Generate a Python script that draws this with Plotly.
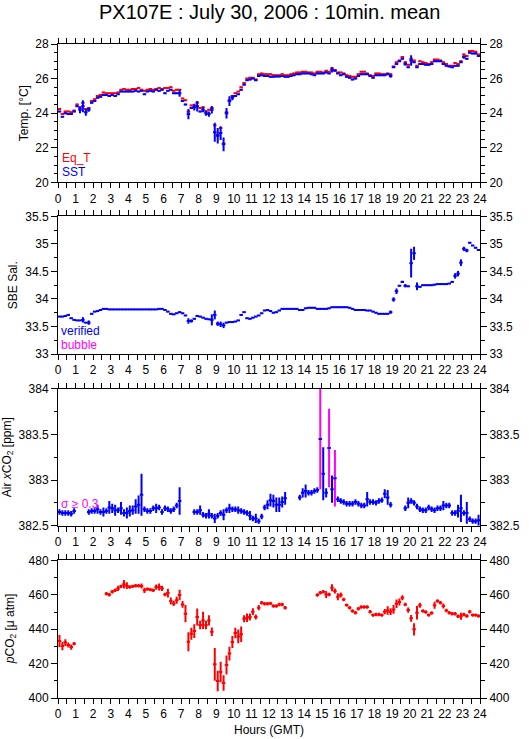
import plotly.graph_objects as go

# ---------------- data (10-minute means, 144 bins) ----------------
HOURS = [(i + 0.5) / 6 for i in range(144)]
X_TICKS = list(range(0, 25))

EQ_T = [24.25, 23.95, 24.1, 24.1, 24.05, 24.15, 24.5, 24.3, 24.6, 24.25,
        24.3, 24.7, 24.8, 25.0, 25.05, 25.2, 25.15, 25.15, 25.15, 25.15,
        25.2, 25.35, 25.4, 25.35, 25.35, 25.4, 25.4, 25.45, 25.35, 25.3,
        25.35, 25.4, 25.35, 25.4, 25.45, 25.4, 25.45, 25.45, 25.5, 25.3,
        25.35, 25.35, 24.85, 24.75, 24.1, 24.45, 24.45, 24.6, 24.3, 24.35,
        24.1, 24.2, 24.3, 23.3, 22.75, 23.15, 22.25, 24.05, 24.75, 25.0,
        25.15, 25.25, 25.5, 25.75, 26.0, 26.05, 26.05, 25.95, 26.25, 26.3,
        26.25, 26.25, 26.25, 26.2, 26.2, 26.2, 26.25, 26.2, 26.2, 26.25,
        26.3, 26.35, 26.35, 26.4, 26.4, 26.35, 26.35, 26.3, 26.4, 26.4,
        26.35, 26.45, 26.4, 26.6, 26.5, 26.35, 26.35, 26.3, 26.2, 26.15,
        26.1, 26.1, 26.25, 26.4, 26.4, 26.3, 26.2, 26.15, 26.3, 26.3,
        26.25, 26.25, 26.3, 26.25, 26.7, 26.95, 27.05, 27.25, 26.95, 26.8,
        27.15, 27.05, 26.75, 27.0, 26.95, 26.9, 26.85, 26.95, 27.1, 27.1,
        27.05, 26.95, 26.85, 26.75, 26.75, 26.9, 26.85, 27.0, 27.4, 27.3,
        27.6, 27.6, 27.55, 27.4]

SST = [24.1, 23.8, 24.0, 23.95, 23.95, 24.1, 24.4, 24.2, 24.4, 24.05,
       24.2, 24.6, 24.7, 24.9, 24.95, 25.05, 25.05, 25.0, 25.05, 25.0,
       25.1, 25.25, 25.25, 25.25, 25.25, 25.25, 25.3, 25.25, 25.3, 25.1,
       25.25, 25.3, 25.25, 25.35, 25.3, 25.35, 25.15, 25.3, 25.35, 25.15,
       25.15, 25.15, 24.7, 24.5, 23.95, 24.3, 24.35, 24.4, 24.1, 24.2,
       24.0, 23.95, 24.2, 22.9, 22.7, 22.85, 22.2, 24.0, 24.7, 24.9,
       25.0, 25.1, 25.35, 25.65, 25.9, 25.95, 26.0, 25.9, 26.15, 26.2,
       26.15, 26.15, 26.1, 26.1, 26.12, 26.12, 26.15, 26.1, 26.1, 26.15,
       26.2, 26.25, 26.25, 26.3, 26.3, 26.3, 26.25, 26.2, 26.3, 26.3,
       26.3, 26.35, 26.3, 26.5, 26.45, 26.3, 26.2, 26.25, 26.1, 26.05,
       25.95, 26.0, 26.15, 26.25, 26.25, 26.25, 26.15, 26.05, 26.2, 26.2,
       26.2, 26.2, 26.25, 26.15, 26.65, 26.85, 27.0, 27.15, 26.85, 26.65,
       27.05, 26.95, 26.65, 26.85, 26.85, 26.8, 26.8, 26.85, 27.0, 27.0,
       27.0, 26.85, 26.75, 26.7, 26.65, 26.75, 26.75, 26.95, 27.25, 27.15,
       27.5, 27.45, 27.45, 27.3]
SST_SD_DEFAULT = 0.04
SST_SD = {7: 0.2, 8: 0.35, 9: 0.2, 10: 0.12, 41: 0.2, 44: 0.3, 46: 0.2, 47: 0.3,
          49: 0.15, 50: 0.15, 51: 0.15, 52: 0.22, 53: 0.55, 54: 0.45, 55: 0.4,
          56: 0.4, 57: 0.3, 58: 0.28, 59: 0.15, 93: 0.15, 113: 0.1, 118: 0.1,
          120: 0.3, 138: 0.1}

SAL = [33.68, 33.68, 33.69, 33.71, 33.65, 33.62, 33.61, 33.61, 33.62, 33.57,
       33.57, 33.73, 33.77, 33.78, 33.80, 33.82, 33.82, 33.81, 33.81, 33.81,
       33.81, 33.81, 33.81, 33.81, 33.81, 33.81, 33.81, 33.81, 33.81, 33.81,
       33.81, 33.81, 33.81, 33.81, 33.82, 33.82, 33.80, 33.77, 33.73, 33.72,
       33.74, 33.76, 33.74, 33.70, 33.60, 33.60, 33.64, 33.69, 33.68, 33.66,
       33.64, 33.63, 33.62, 33.71, 33.55, 33.54, 33.52, 33.57, 33.58, 33.58,
       33.59, 33.61, 33.71, 33.76, 33.65, 33.64, 33.66, 33.68, 33.70, 33.74,
       33.79, 33.80, 33.78, 33.75, 33.76, 33.79, 33.82, 33.82, 33.82, 33.82,
       33.82, 33.82, 33.80, 33.80, 33.83, 33.84, 33.84, 33.84, 33.82, 33.82,
       33.82, 33.82, 33.83, 33.85, 33.85, 33.85, 33.85, 33.85, 33.85, 33.84,
       33.82, 33.80, 33.80, 33.80, 33.80, 33.79, 33.79, 33.77, 33.75, 33.73,
       33.73, 33.73, 33.73, 33.76, 33.99, 34.14, 34.24, 34.31, 34.24, 34.23,
       34.65, 34.83, 34.23, 34.22, 34.25, 34.25, 34.25, 34.25, 34.26, 34.27,
       34.27, 34.27, 34.27, 34.28, 34.31, 34.42, 34.46, 34.66, 34.91, 34.88,
       35.02, 34.97, 34.93, 34.89]
SAL_SD_DEFAULT = 0.01
SAL_SD = {8: 0.05, 10: 0.04, 44: 0.05, 45: 0.03, 52: 0.1, 53: 0.08, 54: 0.04,
          55: 0.05, 56: 0.05, 113: 0.03, 114: 0.04, 115: 0.05, 117: 0.02,
          118: 0.03, 120: 0.26, 121: 0.12, 122: 0.07, 135: 0.05, 136: 0.05,
          137: 0.06, 138: 0.04, 139: 0.03}

XCO2 = [382.65, 382.64, 382.64, 382.64, 382.63, 382.66, None, None, None, None,
        382.65, 382.66, 382.66, 382.68, 382.65, 382.65, 382.66, 382.70, 382.69, 382.67,
        382.67, 382.69, 382.64, 382.64, 382.66, 382.67, 382.71, 382.73, 382.84, 382.68,
        382.66, 382.66, 382.69, 382.69, 382.70, 382.65, 382.69, 382.68, 382.66, 382.68,
        382.72, 382.77, None, None, None, None, 382.65, 382.65, 382.67, 382.62,
        382.61, 382.63, 382.61, 382.58, 382.61, 382.64, 382.62, 382.67, 382.69, 382.68,
        382.68, 382.67, 382.66, 382.65, 382.64, 382.61, 382.58, 382.58, 382.55, 382.60,
        382.70, 382.73, 382.78, 382.77, 382.73, 382.73, 382.76, 382.80, None, None,
        None, None, 382.81, 382.86, 382.88, 382.86, 382.86, 382.88, 382.89, 383.45,
        383.07, 382.86, 383.35, 382.90, 383.02, 382.79, 382.77, 382.76, 382.74, 382.74,
        382.74, 382.76, 382.74, 382.72, 382.72, 382.79, 382.76, 382.76, 382.75, 382.77,
        382.78, 382.85, 382.81, 382.73, None, None, None, None, 382.69, 382.75,
        382.77, 382.75, 382.71, 382.68, 382.67, 382.67, 382.70, 382.68, 382.67, 382.69,
        382.69, 382.72, 382.72, 382.72, 382.64, 382.64, 382.66, 382.69, 382.64, 382.64,
        382.57, 382.55, 382.55, 382.56]
XCO2_SD_DEFAULT = 0.03
XCO2_SD = {13: 0.05, 15: 0.05, 17: 0.07, 18: 0.05, 19: 0.06, 21: 0.07, 22: 0.04,
           23: 0.06, 24: 0.06, 25: 0.05, 26: 0.08, 27: 0.1, 28: 0.23, 33: 0.05,
           41: 0.15, 48: 0.05, 51: 0.05, 53: 0.05, 56: 0.06, 58: 0.05, 61: 0.04,
           65: 0.05, 67: 0.05, 71: 0.05, 72: 0.07, 73: 0.07, 74: 0.08, 75: 0.08,
           76: 0.06, 77: 0.07, 83: 0.05, 84: 0.07, 89: 0.55, 90: 0.29, 91: 0.05,
           92: 0.43, 93: 0.15, 94: 0.31, 105: 0.08, 111: 0.05, 112: 0.08,
           119: 0.06, 131: 0.05, 136: 0.07, 137: 0.15, 139: 0.12, 143: 0.06}
SIGMA_LIMIT = 0.3

PCO2 = [433.1, 430.2, 432.2, 430.8, 429.6, 431.6, None, None, None, None,
        None, None, None, None, None, None, 460.6, 460.0, 461.8, 462.6,
        463.7, 464.9, 466.1, 465.3, 464.5, 464.9, 465.3, 465.3, 465.1, 462.6,
        463.3, 463.0, 462.6, 464.5, 464.5, 463.7, 460.2, 461.0, 456.4, 455.0,
        456.8, 459.9, 454.4, 449.0, 432.7, 437.4, 438.9, 447.1, 442.4, 445.1,
        442.4, 445.1, 438.5, 419.6, 409.9, 415.1, 408.7, 419.2, 425.8, 432.5,
        437.8, 435.8, 437.0, 446.1, 446.7, 447.1, 450.2, 447.1, 452.5, 455.4,
        454.8, 454.8, 455.0, 453.5, 453.5, 454.4, 454.4, 452.5, None, None,
        None, None, None, None, None, None, None, None, 459.9, 461.2,
        461.8, 460.2, 460.2, 464.1, 462.2, 458.9, 459.9, 457.3, 454.0, 452.5,
        450.6, 449.6, 451.9, 452.9, 452.9, 452.9, 450.2, 448.2, 448.6, 448.6,
        448.2, 450.2, 450.9, 450.2, 451.5, 454.8, 455.8, 458.3, 454.4, 451.1,
        446.3, 439.9, 449.6, 453.9, 450.6, 450.0, 448.2, 449.4, 453.9, 456.4,
        455.4, 453.5, 450.9, 449.6, 449.0, 449.0, 447.5, 447.5, 448.6, 447.7,
        450.2, 448.2, 448.2, 447.7]
PCO2_SD_DEFAULT = 1.0
PCO2_SD = {0: 3.5, 1: 2.5, 2: 2, 3: 1.5, 4: 1.5, 20: 1.5, 22: 2.5, 23: 2, 28: 1.5,
           29: 1.5, 33: 1.5, 34: 2, 35: 1.5, 37: 2.5, 38: 2, 39: 1.5, 40: 2,
           41: 3, 42: 2, 43: 5, 44: 5.5, 45: 3.5, 46: 4, 47: 5, 48: 2.5, 49: 5,
           50: 2.5, 51: 3, 52: 2.5, 53: 9.5, 54: 6, 55: 6, 56: 4.5, 57: 5.5,
           58: 4, 59: 3.5, 60: 3, 61: 4, 62: 4.5, 63: 2, 64: 2.5, 65: 2, 66: 2,
           67: 1.5, 68: 1.5, 91: 2, 93: 2, 94: 1.5, 95: 2, 96: 1.5, 111: 1.5,
           112: 2.5, 113: 2, 114: 2.5, 115: 2.5, 116: 2, 117: 1.5, 119: 1.5,
           120: 2, 121: 3.5, 122: 4, 123: 1.5, 128: 2, 131: 1.5, 137: 2}
EQT_SD = 0.04

RED, BLUE, MAGENTA = "#ff0000", "#0000ff", "#ff00ff"
FONT = "Liberation Sans, Arial, sans-serif"
W, H = 529, 739
L, R, T, B = 58, 480, 44.3, 698.3


def sd_list(default, exceptions):
    return [exceptions.get(i, default) for i in range(len(HOURS))]


def px_x(x):
    return (x - L) / (R - L)


def px_y(y):
    return (B - y) / (B - T)


def cross(y, sd, color, xaxis, yaxis, show_x=True):
    return go.Scatter(
        x=HOURS, y=y, mode="markers", xaxis=xaxis, yaxis=yaxis,
        marker=dict(size=1, color=color), showlegend=False, hoverinfo="skip",
        error_y=dict(type="data", array=sd, color=color, thickness=2, width=0),
        error_x=dict(type="constant", value=0.1 if show_x else 0, color=color,
                     thickness=2, width=0),
    )


fig = go.Figure()

# panel 1
fig.add_trace(cross(EQ_T, [EQT_SD] * len(HOURS), RED, "x", "y"))
fig.add_trace(cross(SST, sd_list(SST_SD_DEFAULT, SST_SD), BLUE, "x", "y"))
# panel 2
fig.add_trace(cross(SAL, sd_list(SAL_SD_DEFAULT, SAL_SD), BLUE, "x2", "y2"))
# panel 3
xsd = sd_list(XCO2_SD_DEFAULT, XCO2_SD)
big = [v if (v is not None and s >= SIGMA_LIMIT) else None for v, s in zip(XCO2, xsd)]
small_sd = [0 if s >= SIGMA_LIMIT else s for s in xsd]
fig.add_trace(cross(big, xsd, MAGENTA, "x3", "y3", show_x=False))
fig.add_trace(cross(XCO2, small_sd, BLUE, "x3", "y3"))
# panel 4
fig.add_trace(cross(PCO2, sd_list(PCO2_SD_DEFAULT, PCO2_SD), RED, "x4", "y4"))

# dummy traces for the right-hand axes
for k in range(5, 9):
    xa = "x" if k == 5 else f"x{k - 4}"
    fig.add_trace(go.Scatter(x=[None], y=[None], xaxis=xa, yaxis=f"y{k}",
                             mode="markers", showlegend=False, hoverinfo="skip"))

panels = [  # (top px, bottom px, range, dtick, minor)
    (44.3, 182.7, [20, 28], 2, 0.5),
    (216.7, 354.3, [33, 35.5], 0.5, 0.25),
    (389.0, 526.0, [382.5, 384], 0.5, 0.25),
    (560.7, 698.3, [400, 480], 20, 10),
]

layout = dict(
    width=W, height=H,
    margin=dict(l=L, r=W - R, t=T, b=H - B, pad=0),
    paper_bgcolor="white", plot_bgcolor="white",
    font=dict(family=FONT, size=12, color="black"),
    showlegend=False,
)
for n, (top, bot, rng, dt, mdt) in enumerate(panels, start=1):
    sfx = "" if n == 1 else str(n)
    dom = [px_y(bot), px_y(top)]
    layout[f"xaxis{sfx}"] = dict(
        domain=[0, 1], anchor=f"y{sfx}", range=[0, 24], automargin=False,
        tickmode="array", tickvals=X_TICKS, ticktext=[str(v) for v in X_TICKS],
        ticks="outside", ticklen=5, tickwidth=1, tickcolor="black",
        minor=dict(dtick=0.5, ticklen=5, ticks="outside", tickcolor="black"),
        showline=True, linecolor="black", linewidth=1, mirror="allticks",
        showgrid=False, zeroline=False, tickfont=dict(size=12),
    )
    layout[f"yaxis{sfx}"] = dict(
        domain=dom, anchor=f"x{sfx}", range=rng, dtick=dt, tick0=rng[0],
        automargin=False,
        ticks="outside", ticklen=6, tickwidth=1, tickcolor="black",
        minor=dict(dtick=mdt, ticklen=3.5, ticks="outside", tickcolor="black"),
        showline=True, linecolor="black", linewidth=1, mirror=True,
        showgrid=False, zeroline=False, tickfont=dict(size=12),
    )
    layout[f"yaxis{n + 4}"] = dict(
        overlaying=f"y{sfx}", side="right", anchor=f"x{sfx}", range=rng,
        dtick=dt, tick0=rng[0], automargin=False,
        ticks="outside", ticklen=6, tickwidth=1, tickcolor="black",
        minor=dict(dtick=mdt, ticklen=3.5, ticks="outside", tickcolor="black"),
        showline=False, showgrid=False, zeroline=False, tickfont=dict(size=12),
    )
fig.update_layout(**layout)

ann = []


def text(t, x, y, color="black", size=12, angle=0, xanchor="left"):
    ann.append(dict(text=t, x=px_x(x), y=px_y(y), xref="paper", yref="paper",
                    showarrow=False, xanchor=xanchor, yanchor="middle",
                    textangle=angle, font=dict(color=color, size=size, family=FONT)))


text("PX107E : July 30, 2006 : 10min. mean", 269, 12, size=20, xanchor="center")
text("Eq_T", 60, 158, RED)
text("SST", 60, 172, BLUE)
text("verified", 59, 331.5, BLUE)
text("bubble", 59, 345.5, MAGENTA)
text("σ ≥ 0.3", 59, 504, MAGENTA)
text("Hours (GMT)", 269, 730, xanchor="center")
text("Temp. [°C]", 24, 113.5, angle=-90, xanchor="center")
text("SBE Sal.", 13, 285.5, angle=-90, xanchor="center")
text("Air <i>x</i>CO<sub>2</sub> [ppm]", 8, 457.5, angle=-90, xanchor="center")
text("<i>p</i>CO<sub>2</sub> [μ atm]", 11, 629.5, angle=-90, xanchor="center")
fig.update_layout(annotations=ann)

fig.write_html(
    "out.html",
    config={"displayModeBar": False, "staticPlot": True},
    post_script="document.body.style.margin='0';document.body.style.overflow='hidden';",
)
